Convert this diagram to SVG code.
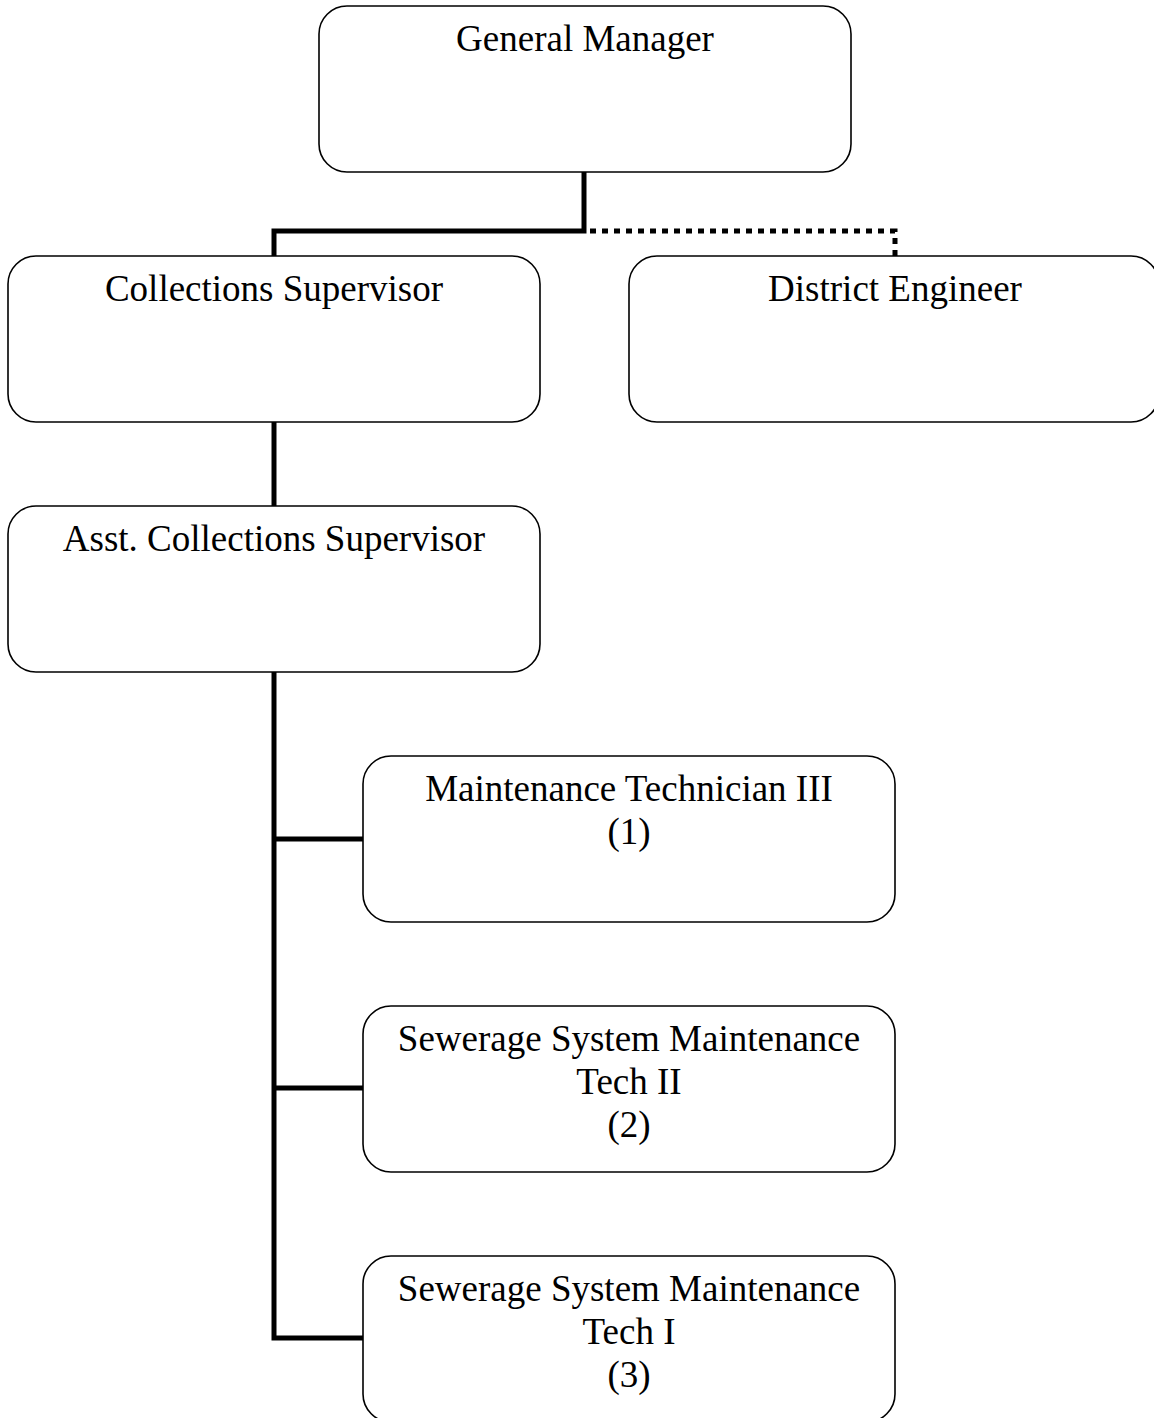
<svg xmlns="http://www.w3.org/2000/svg" width="1154" height="1418" viewBox="0 0 1154 1418">
<style>
.box{fill:#fff;stroke:#000;stroke-width:1.6}
.t{font-family:"Liberation Serif","Times New Roman",serif;font-size:37px;fill:#000;text-anchor:middle}
.c{fill:none;stroke:#000;stroke-width:5}
.d{fill:none;stroke:#000;stroke-width:5;stroke-dasharray:6 6}
</style>
<rect width="1154" height="1418" fill="#fff"/>
<g id="connectors">
<path class="c" d="M584 172V231H274V256"/>
<path class="d" d="M590 231H895V256"/>
<path class="c" d="M274 422V506"/>
<path class="c" d="M274 672V1338H363"/>
<path class="c" d="M274 839H363"/>
<path class="c" d="M274 1088H363"/>
</g>
<g id="gm"><rect class="box" x="319" y="6" width="532" height="166" rx="28"/><text class="t" x="585" y="51">General Manager</text></g>
<g id="cs"><rect class="box" x="8" y="256" width="532" height="166" rx="28"/><text class="t" x="274" y="301">Collections Supervisor</text></g>
<g id="de"><rect class="box" x="629" y="256" width="530" height="166" rx="28"/><text class="t" x="895" y="301">District Engineer</text></g>
<g id="acs"><rect class="box" x="8" y="506" width="532" height="166" rx="28"/><text class="t" x="274" y="551">Asst. Collections Supervisor</text></g>
<g id="mt3"><rect class="box" x="363" y="756" width="532" height="166" rx="28"/><text class="t" x="629" y="801">Maintenance Technician III</text><text class="t" x="629" y="844">(1)</text></g>
<g id="ss2"><rect class="box" x="363" y="1006" width="532" height="166" rx="28"/><text class="t" x="629" y="1051">Sewerage System Maintenance</text><text class="t" x="629" y="1094">Tech II</text><text class="t" x="629" y="1137">(2)</text></g>
<g id="ss1"><rect class="box" x="363" y="1256" width="532" height="166" rx="28"/><text class="t" x="629" y="1301">Sewerage System Maintenance</text><text class="t" x="629" y="1344">Tech I</text><text class="t" x="629" y="1387">(3)</text></g>
</svg>
